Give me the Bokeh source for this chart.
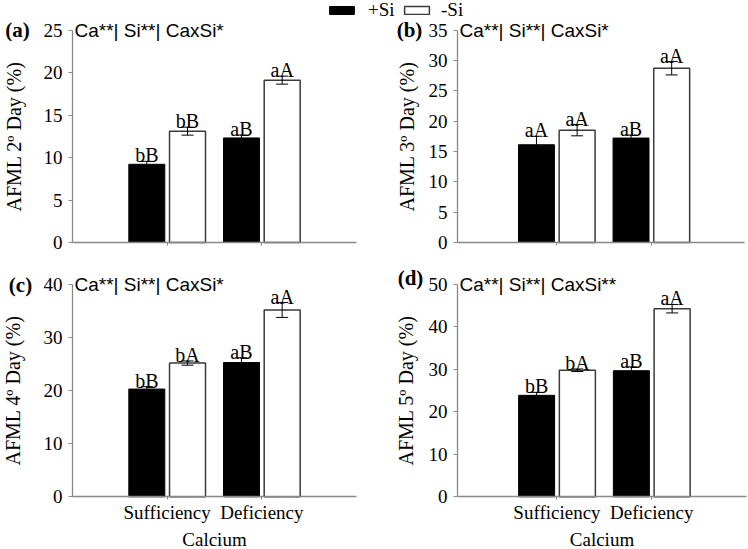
from bokeh.plotting import figure
from bokeh.models import (ColumnDataSource, Range1d, FixedTicker, Whisker, Label,
                          Legend, LegendItem)
from bokeh.layouts import column, row
from bokeh.embed import file_html
from bokeh.resources import INLINE
from bokeh.transform import dodge
from bokeh.core.properties import value

# ---------------- data ----------------
calcium_levels = ["Sufficiency", "Deficiency"]
panel_tags = ["(a)", "(b)", "(c)", "(d)"]
y_titles = ["AFML 2º Day (%)", "AFML 3º Day (%)", "AFML 4º Day (%)", "AFML 5º Day (%)"]
anova_text = ["Ca**| Si**| CaxSi*", "Ca**| Si**| CaxSi*",
              "Ca**| Si**| CaxSi*", "Ca**| Si**| CaxSi**"]
y_max = [25, 35, 40, 50]
y_step = [5, 5, 10, 10]

# +Si (black bars), per panel: [Sufficiency, Deficiency]
plus_si = [[9.2, 12.3], [16.1, 17.2], [20.3, 25.3], [23.9, 29.7]]
plus_si_err = [[0.35, 0.35], [1.4, 0.5], [0.45, 0.9], [0.7, 0.9]]
plus_si_letters = [["bB", "aB"], ["aA", "aB"], ["bB", "aB"], ["bB", "aB"]]

# -Si (white bars)
minus_si = [[13.1, 19.1], [18.5, 28.7], [25.2, 35.2], [29.8, 44.3]]
minus_si_err = [[0.47, 0.47], [0.93, 1.1], [0.4, 1.4], [0.3, 1.0]]
minus_si_letters = [["bB", "aA"], ["aA", "aA"], ["bA", "aA"], ["bA", "aA"]]

legend_labels = ["+Si", "-Si"]

# ---------------- style / layout ----------------
SERIF = "Liberation Serif"
SANS = "Liberation Sans"
AXIS_GREY = "#898989"
WHITE_EDGE = "#3a3a3a"
BAR_OFF = 0.215
BAR_W = 0.38

# page-pixel boxes: figure (l, t, r, b) and axes area (l, t, r, b)
FIG_BOXES = [(0, 0, 396, 262), (396, 0, 748, 262), (0, 262, 396, 549), (396, 262, 748, 549)]
AX_BOXES = [(72, 29.5, 356, 242), (457, 29.5, 744, 242),
            (72, 284, 356, 496.3), (457, 284, 746, 496.3)]
X_SPANS = [(0, 3), (-0.05, 2.985), (0, 3), (-0.05, 3.0)]
YLABEL_STANDOFF = [16, 8, 17, 9]
TAG_OFFSET = [(-55, 0), (-48, 0), (-52, 0), (-47, 7)]


def build_panel(k):
    fl, ft, fr, fb = FIG_BOXES[k]
    al, at, ar, ab = AX_BOXES[k]
    x0, x1 = X_SPANS[k]
    ppx = (ar - al) / (x1 - x0)
    ppy = (ab - at) / y_max[k]
    xr = Range1d(x0 - (al - fl) / ppx, x1 + (fr - ar) / ppx)
    yr = Range1d(-(fb - ab) / ppy, y_max[k] + (at - ft) / ppy)
    bottom = k >= 2

    p = figure(width=fr - fl, height=fb - ft, x_range=xr, y_range=yr,
               output_backend="svg", toolbar_location=None, min_border=0)
    p.border_fill_color = None
    p.outline_line_color = None
    p.xgrid.visible = False
    p.ygrid.visible = False

    xs = [i + 1 for i in range(len(calcium_levels))]
    src = ColumnDataSource(dict(
        x=xs,
        plus=plus_si[k],
        plus_hi=[v + e for v, e in zip(plus_si[k], plus_si_err[k])],
        plus_lo=[v - e for v, e in zip(plus_si[k], plus_si_err[k])],
        plus_let=plus_si_letters[k],
        minus=minus_si[k],
        minus_hi=[v + e for v, e in zip(minus_si[k], minus_si_err[k])],
        minus_lo=[v - e for v, e in zip(minus_si[k], minus_si_err[k])],
        minus_let=minus_si_letters[k],
    ))

    r_plus = p.vbar(x=dodge("x", -BAR_OFF), top="plus", width=BAR_W, source=src,
                    fill_color="black", line_color="black", line_width=1)
    r_minus = p.vbar(x=dodge("x", BAR_OFF), top="minus", width=BAR_W, source=src,
                     fill_color="white", line_color=WHITE_EDGE, line_width=1.5)

    for off, key in ((-BAR_OFF, "plus"), (BAR_OFF, "minus")):
        wk = Whisker(source=src, base=dodge("x", off), upper=key + "_hi", lower=key + "_lo",
                     line_color="black", line_width=1, level="overlay")
        wk.upper_head.size = 12
        wk.lower_head.size = 12
        wk.upper_head.line_color = "black"
        wk.lower_head.line_color = "black"
        p.add_layout(wk)
        p.text(x=dodge("x", off), y=key + "_hi", text=key + "_let", source=src,
               text_font=value(SERIF), text_font_size="20px", text_color="black",
               text_align="center", text_baseline="alphabetic", y_offset=-6)

    yax = p.yaxis[0]
    yax.fixed_location = x0
    yax.bounds = (0, y_max[k])
    yax.ticker = FixedTicker(ticks=list(range(0, y_max[k] + 1, y_step[k])))
    yax.axis_label = y_titles[k]
    yax.axis_label_text_font = SERIF
    yax.axis_label_text_font_size = "20px"
    yax.axis_label_text_font_style = "normal"
    yax.axis_label_text_color = "black"
    yax.axis_label_standoff = YLABEL_STANDOFF[k]
    yax.major_label_text_font = SERIF
    yax.major_label_text_font_size = "19px"
    yax.major_label_text_color = "black"
    yax.major_label_standoff = 6
    yax.axis_line_color = AXIS_GREY
    yax.axis_line_width = 1.3
    yax.major_tick_line_color = AXIS_GREY
    yax.major_tick_out = 4
    yax.major_tick_in = 0
    yax.minor_tick_line_color = None

    xax = p.xaxis[0]
    xax.fixed_location = 0
    xax.bounds = (x0, x1)
    xax.ticker = FixedTicker(ticks=xs)
    xax.axis_line_color = AXIS_GREY
    xax.axis_line_width = 1.3
    xax.major_tick_line_color = AXIS_GREY
    xax.major_tick_out = 3
    xax.major_tick_in = 0
    xax.minor_tick_line_color = None
    xax.major_label_text_font = SERIF
    xax.major_label_text_color = "black"
    xax.major_label_text_font_size = "19px"
    if bottom:
        xax.major_label_overrides = {x: lab for x, lab in zip(xs, calcium_levels)}
        xax.major_label_standoff = 2
        xax.axis_label = "Calcium"
        xax.axis_label_text_font = SERIF
        xax.axis_label_text_font_size = "19px"
        xax.axis_label_text_font_style = "normal"
        xax.axis_label_text_color = "black"
        xax.axis_label_standoff = 3
    else:
        xax.major_label_overrides = {x: "" for x in xs}
        xax.major_label_standoff = 0

    p.add_layout(Label(x=x0, y=y_max[k], x_offset=2, text=anova_text[k],
                       text_font=SANS, text_font_size="19px", text_color="black",
                       text_align="left", text_baseline="middle"))
    tdx, tdy = TAG_OFFSET[k]
    p.add_layout(Label(x=x0, y=y_max[k], x_offset=tdx, y_offset=tdy, text=panel_tags[k],
                       text_font=SERIF, text_font_size="21px", text_font_style="bold",
                       text_color="black", text_align="center", text_baseline="middle"))
    return p, r_plus, r_minus


built = [build_panel(k) for k in range(4)]
panels = [b[0] for b in built]

# legend, split over the two top panels (+Si in (a), -Si in (b))
leg_a = Legend(items=[LegendItem(label=legend_labels[0], renderers=[built[0][1]])],
               location=(326 - FIG_BOXES[0][0], 262 - 21), glyph_width=31, label_standoff=11)
leg_b = Legend(items=[LegendItem(label=legend_labels[1], renderers=[built[1][2]])],
               location=(401 - FIG_BOXES[1][0], 262 - 21), glyph_width=31, label_standoff=9)
for leg, p in ((leg_a, panels[0]), (leg_b, panels[1])):
    leg.orientation = "horizontal"
    leg.glyph_height = 10
    leg.label_height = 10
    leg.padding = 0
    leg.margin = 0
    leg.spacing = 0
    leg.border_line_color = None
    leg.background_fill_alpha = 0
    leg.label_text_font = SERIF
    leg.label_text_font_size = "19px"
    leg.label_text_color = "black"
    p.add_layout(leg)

layout = column(row(panels[0], panels[1]), row(panels[2], panels[3]))

with open("out.html", "w") as f:
    f.write(file_html(layout, INLINE))
